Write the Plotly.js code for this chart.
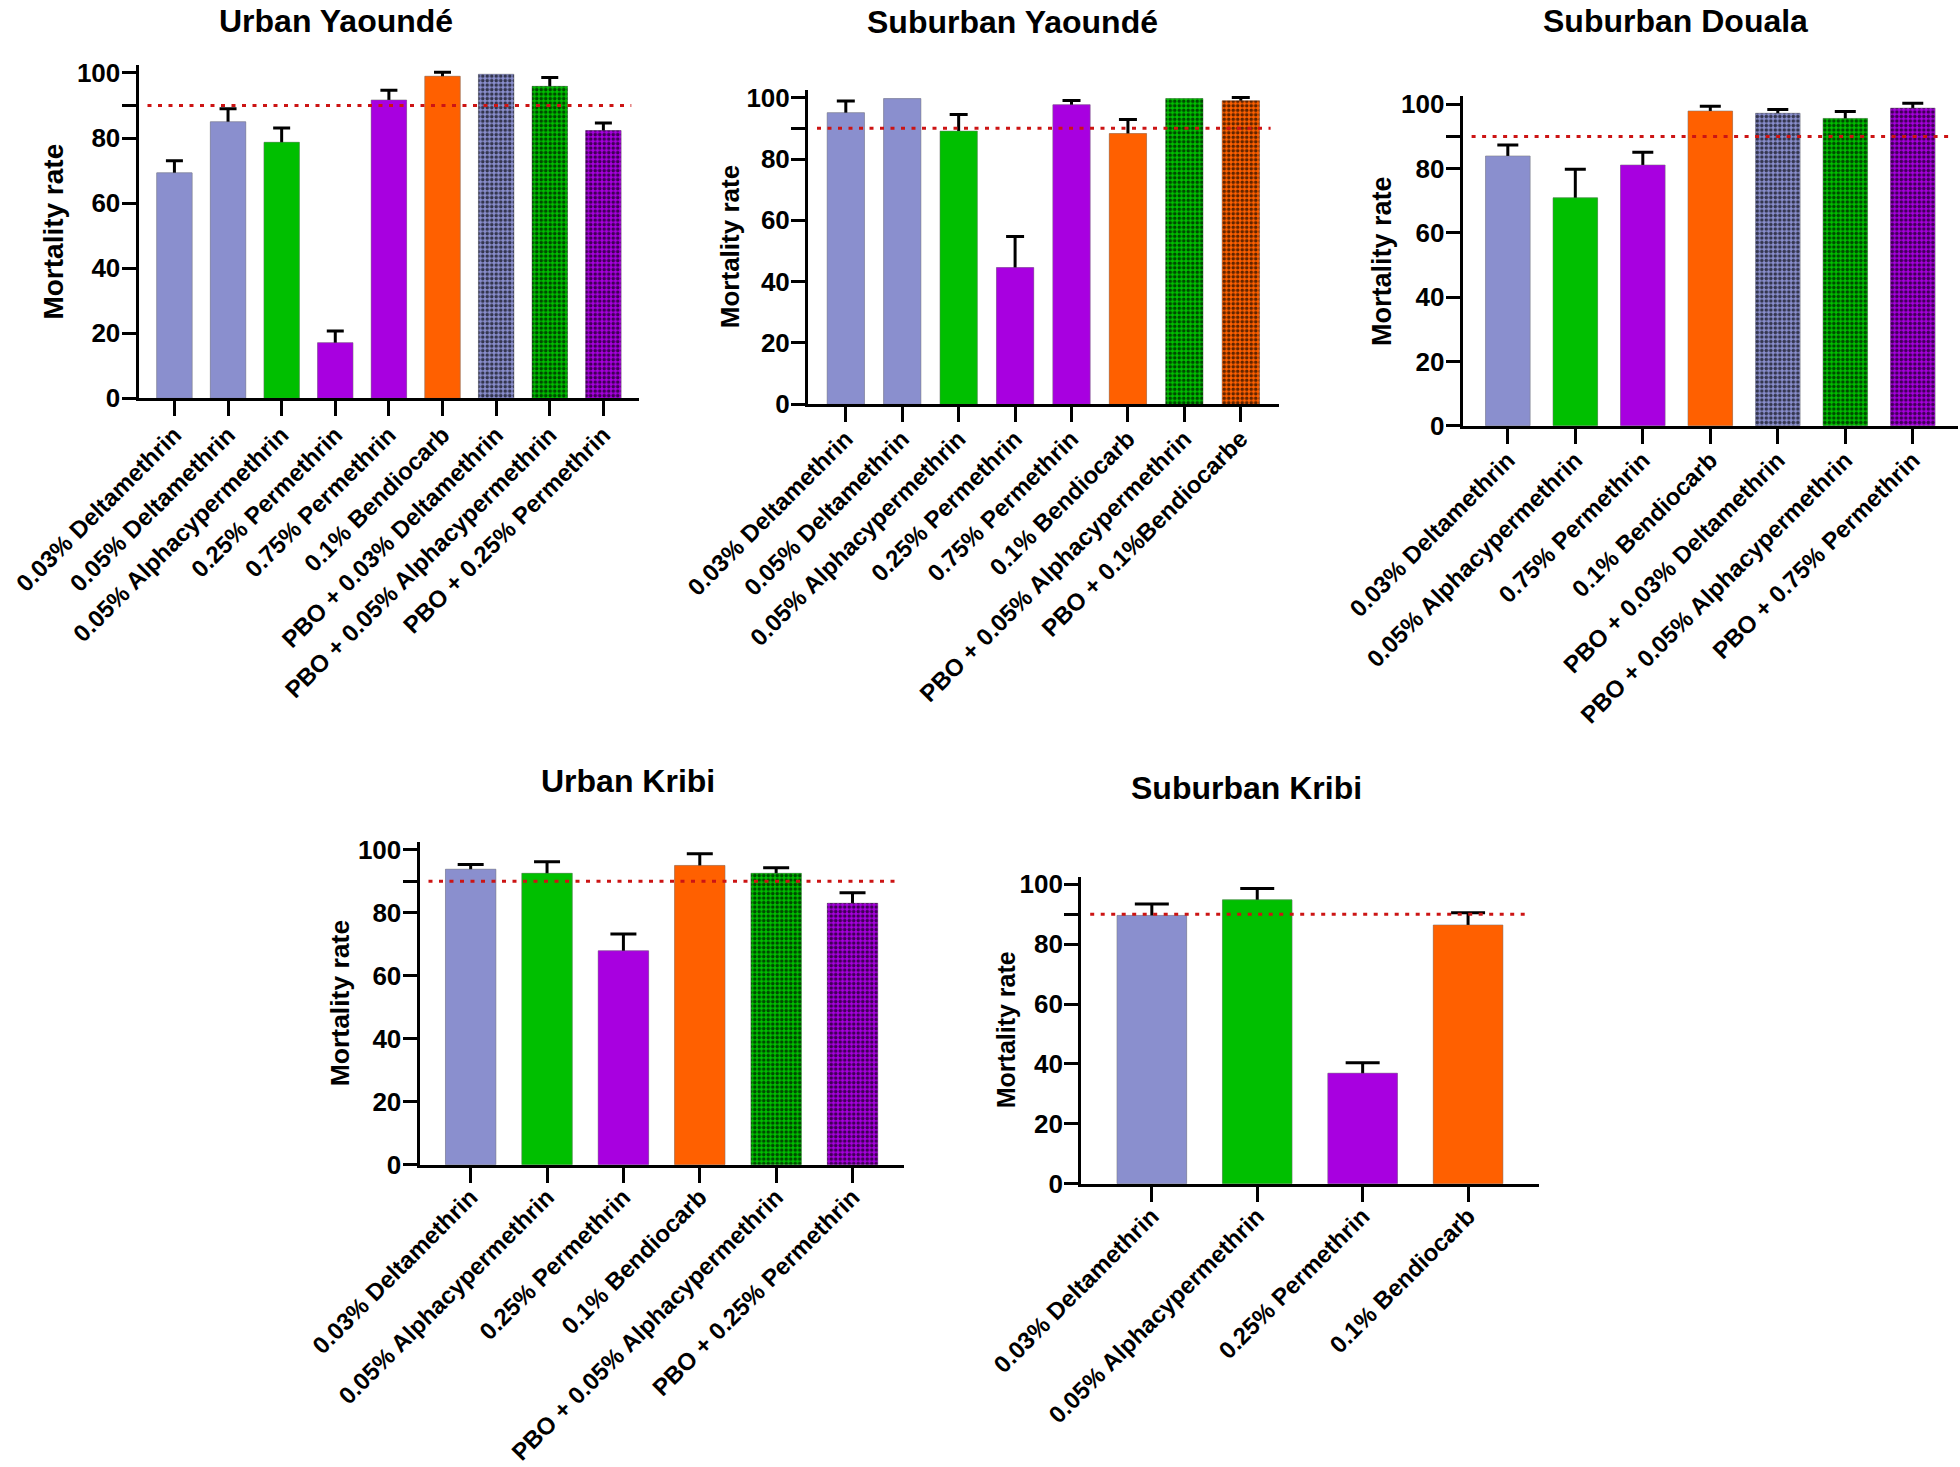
<!DOCTYPE html>
<html>
<head>
<meta charset="utf-8">
<script src="https://cdn.plot.ly/plotly-3.0.1.min.js"></script>
<style>html,body{margin:0;padding:0;background:#fff;}</style>
</head>
<body>
<div id="chart" style="width:1960px;height:1467px;"></div>
<script>
// ---------------- DATA ----------------
const titles = ["Urban Yaoundé", "Suburban Yaoundé", "Suburban Douala", "Urban Kribi", "Suburban Kribi"];
const yTitle = "Mortality rate";
const yTickVals = [0, 20, 40, 60, 80, 90, 100];
const yTickText = ["0", "20", "40", "60", "80", "", "100"];
const threshold = 90;

const catsUrbanYaounde = ["0.03% Deltamethrin", "0.05% Deltamethrin", "0.05% Alphacypermethrin", "0.25% Permethrin", "0.75% Permethrin", "0.1% Bendiocarb", "PBO + 0.03% Deltamethrin", "PBO + 0.05% Alphacypermethrin", "PBO + 0.25% Permethrin"];
const valsUrbanYaounde = [69.3, 85.0, 78.7, 17.1, 91.7, 99.0, 99.6, 95.9, 82.3];
const errTopUrbanYaounde = [73.0, 89.0, 83.1, 20.7, 94.7, 100.2, null, 98.6, 84.6];

const catsSuburbanYaounde = ["0.03% Deltamethrin", "0.05% Deltamethrin", "0.05% Alphacypermethrin", "0.25% Permethrin", "0.75% Permethrin", "0.1% Bendiocarb", "PBO + 0.05% Alphacypermethrin", "PBO + 0.1%Bendiocarbe"];
const valsSuburbanYaounde = [95.1, 99.7, 89.1, 44.6, 97.7, 88.3, 99.7, 99.0];
const errTopSuburbanYaounde = [98.9, null, 94.5, 54.7, 99.1, 92.9, null, 100.1];

const catsSuburbanDouala = ["0.03% Deltamethrin", "0.05% Alphacypermethrin", "0.75% Permethrin", "0.1% Bendiocarb", "PBO + 0.03% Deltamethrin", "PBO + 0.05% Alphacypermethrin", "PBO + 0.75% Permethrin"];
const valsSuburbanDouala = [83.9, 70.9, 81.1, 97.9, 97.2, 95.6, 98.8];
const errTopSuburbanDouala = [87.3, 79.8, 85.1, 99.4, 98.4, 97.8, 100.3];

const catsUrbanKribi = ["0.03% Deltamethrin", "0.05% Alphacypermethrin", "0.25% Permethrin", "0.1% Bendiocarb", "PBO + 0.05% Alphacypermethrin", "PBO + 0.25% Permethrin"];
const valsUrbanKribi = [93.8, 92.5, 67.9, 95.0, 92.5, 83.0];
const errTopUrbanKribi = [95.3, 96.2, 73.2, 98.7, 94.3, 86.3];

const catsSuburbanKribi = ["0.03% Deltamethrin", "0.05% Alphacypermethrin", "0.25% Permethrin", "0.1% Bendiocarb"];
const valsSuburbanKribi = [89.6, 94.8, 36.9, 86.4];
const errTopSuburbanKribi = [93.4, 98.6, 40.4, 90.5];

// ---------------- LAYOUT / STYLE ----------------
const W = 1960, H = 1467;
const FONT = '"Liberation Sans", Arial, Helvetica, sans-serif';
const YMAX = 102.5;

const boxes = [
  {x0: 138.5, x1: 639.3, yb: 398.3, yt: 73.0, cap: 8.5, tx: 336, ty: 1, tanchor: "top", ytx: 54, ytSize: 28, xso: -5},
  {x0: 808.0, x1: 1278.6, yb: 404.3, yt: 97.7, cap: 9, tx: 1012.6, ty: 21.7, tanchor: "middle", ytx: 730, ytSize: 26, xso: -7},
  {x0: 1462.6, x1: 1958.0, yb: 425.7, yt: 104.3, cap: 10.5, tx: 1675.7, ty: 20.8, tanchor: "middle", ytx: 1382, ytSize: 27, xso: -7},
  {x0: 419.5, x1: 903.7, yb: 1164.7, yt: 849.7, cap: 13, tx: 628, ty: 781, tanchor: "middle", ytx: 340, ytSize: 26.5, xso: -9},
  {x0: 1081.2, x1: 1538.7, yb: 1183.7, yt: 884.3, cap: 17, tx: 1246.4, ty: 788.3, tanchor: "middle", ytx: 1006, ytSize: 25, xso: -9}
];

const series = [
  [catsUrbanYaounde, valsUrbanYaounde, errTopUrbanYaounde],
  [catsSuburbanYaounde, valsSuburbanYaounde, errTopSuburbanYaounde],
  [catsSuburbanDouala, valsSuburbanDouala, errTopSuburbanDouala],
  [catsUrbanKribi, valsUrbanKribi, errTopUrbanKribi],
  [catsSuburbanKribi, valsSuburbanKribi, errTopSuburbanKribi]
];

function colorFor(c) {
  if (c.includes("Deltamethrin")) return "#8a8fce";
  if (c.includes("Alphacypermethrin")) return "#00bf00";
  if (c.includes("Permethrin")) return "#a800e0";
  return "#ff6000";
}

const traces = [];
const layout = {
  width: W, height: H,
  margin: {l: 0, r: 0, t: 0, b: 0},
  paper_bgcolor: "#ffffff",
  plot_bgcolor: "rgba(0,0,0,0)",
  showlegend: false,
  barmode: "overlay",
  font: {family: FONT, color: "#000"},
  annotations: [],
  shapes: []
};

series.forEach((s, i) => {
  const [cats, vals, errTop] = s;
  const b = boxes[i];
  const n = cats.length;
  const sfx = i === 0 ? "" : String(i + 1);
  const xa = "x" + sfx, ya = "y" + sfx;
  const up = errTop.map((e, k) => e == null ? NaN : e - vals[k]);
  const down = errTop.map(e => e == null ? NaN : 4);
  const colors = cats.map(colorFor);
  const solid = {color: colors, line: {width: 1, color: "rgba(120,120,120,0.35)"}};

  // A: error bars (their lower cap is hidden under bars drawn on top)
  traces.push({
    type: "bar", x: cats, y: vals, xaxis: xa, yaxis: ya,
    width: 0.66, marker: solid,
    error_y: {
      type: "data", symmetric: false,
      array: up, arrayminus: down,
      color: "#000", thickness: 3, width: b.cap
    }
  });
  // B: solid bars
  traces.push({
    type: "bar", x: cats, y: vals, xaxis: xa, yaxis: ya,
    width: 0.66, marker: solid
  });
  // C: checkered overlay for PBO combinations
  const pboCats = cats.filter(c => c.startsWith("PBO"));
  if (pboCats.length) {
    traces.push({
      type: "bar",
      x: pboCats,
      y: pboCats.map(c => vals[cats.indexOf(c)]),
      xaxis: xa, yaxis: ya,
      width: 0.66,
      marker: {
        color: "rgba(0,0,0,0)",
        line: {width: 0},
        pattern: {
          shape: ".",
          bgcolor: "rgba(0,0,0,0)",
          fgcolor: "#000000",
          fgopacity: 0.62,
          size: 4.5,
          solidity: 0.5,
          fillmode: "replace"
        }
      }
    });
  }

  const domTopPx = b.yb - YMAX / 100 * (b.yb - b.yt);
  const ydom = [1 - b.yb / H, 1 - domTopPx / H];
  layout["xaxis" + sfx] = {
    domain: [b.x0 / W, b.x1 / W],
    anchor: ya,
    type: "category",
    range: [-0.67, n - 0.33],
    autorange: false,
    tickmode: "array",
    tickvals: cats,
    ticktext: cats,
    tickangle: -45,
    ticks: "outside", ticklen: 15, tickwidth: 3, tickcolor: "#000",
    ticklabelstandoff: b.xso,
    showline: true, linewidth: 3, linecolor: "#000",
    showgrid: false, zeroline: false,
    tickfont: {family: FONT, size: 24, color: "#000", weight: "bold"},
    fixedrange: true
  };
  layout["yaxis" + sfx] = {
    domain: ydom,
    anchor: xa,
    range: [0, YMAX],
    autorange: false,
    tickmode: "array",
    tickvals: yTickVals,
    ticktext: yTickText,
    ticks: "outside", ticklen: 14, tickwidth: 3, tickcolor: "#000",
    ticklabelstandoff: -4,
    showline: true, linewidth: 3, linecolor: "#000",
    showgrid: false, zeroline: false,
    tickfont: {family: FONT, size: 26, color: "#000", weight: "bold"},
    fixedrange: true
  };
  // threshold dotted line
  layout.shapes.push({
    type: "line", xref: "paper", yref: ya,
    x0: (b.x0 + 9) / W, x1: (b.x1 - 8) / W,
    y0: threshold, y1: threshold,
    line: {color: "#cc1414", width: 3, dash: "4px,6.5px"},
    layer: "above"
  });
  // panel title
  layout.annotations.push({
    text: titles[i], xref: "paper", yref: "paper",
    x: b.tx / W, y: 1 - b.ty / H, xanchor: "center", yanchor: b.tanchor,
    showarrow: false,
    font: {family: FONT, size: 32, color: "#000", weight: "bold"}
  });
  // y-axis title
  layout.annotations.push({
    text: yTitle, xref: "paper", yref: "paper",
    x: b.ytx / W, y: (ydom[0] + ydom[1]) / 2, xanchor: "center", yanchor: "middle",
    textangle: -90, showarrow: false,
    font: {family: FONT, size: b.ytSize, color: "#000", weight: "bold"}
  });
});

Plotly.newPlot("chart", traces, layout, {staticPlot: true, displayModeBar: false});
</script>
</body>
</html>
